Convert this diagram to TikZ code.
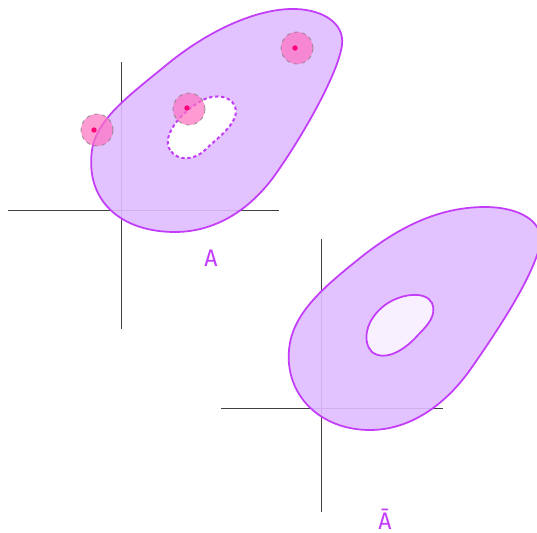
\documentclass[tikz,border=0pt]{standalone}
\usepackage{fontspec}
\newfontfamily\lblfont{DejaVu Sans Mono}
\definecolor{setfill}{HTML}{DFBBFF}
\definecolor{setline}{HTML}{C23CFA}
\definecolor{holefill}{HTML}{F8F0FF}
\definecolor{diskfill}{HTML}{FF70C0}
\definecolor{dotcol}{HTML}{FF0077}
\tikzset{
  axis/.style={draw=black!75, line width=0.6pt},
  setregion/.style={fill=setfill, fill opacity=0.9, draw=setline, line width=1.3pt, draw opacity=1},
  holeA/.style={fill=white, draw=setline, line width=1.5pt, dash pattern=on 2.5pt off 2pt},
  holeB/.style={fill=holefill, draw=setline, line width=1.3pt},
  disk/.style={circle, minimum size=24pt, inner sep=0pt, fill=diskfill, fill opacity=0.7, draw=black!50, draw opacity=0.8, dashed, line width=0.6pt},
  centre/.style={circle, minimum size=4pt, inner sep=0pt, fill=dotcol},
  lbl/.style={text=setline, inner sep=0pt, font=\lblfont\fontsize{17pt}{17pt}\selectfont}
}
\begin{document}
\begin{tikzpicture}[x=0.75pt,y=-0.75pt]
\useasboundingbox (0,0) rectangle (537,533);
% axes A
\coordinate (ax1) at (8,210); \coordinate (ax2) at (279,210);
\coordinate (ay1) at (121,62); \coordinate (ay2) at (121,329);
\draw[axis] (ax1) -- (ax2);
\draw[axis] (ay1) -- (ay2);
% axes Abar
\coordinate (bx1) at (221,408); \coordinate (bx2) at (443,408);
\coordinate (by1) at (321,239); \coordinate (by2) at (321,512);
\draw[axis] (bx1) -- (bx2);
\draw[axis] (by1) -- (by2);
% set A
\draw[setregion] (175,232) .. controls (120,232) and (85,200) .. (92,150)
  .. controls (97,118) and (130,95) .. (170,62)
  .. controls (210,30) and (255,10) .. (290,9)
  .. controls (320,8) and (345,22) .. (342,45)
  .. controls (338,75) and (300,140) .. (275,175)
  .. controls (250,210) and (215,232) .. (175,232) -- cycle;
\draw[holeA] (170,150) .. controls (160,135) and (185,108) .. (205,99)
  .. controls (222,92) and (240,100) .. (235,117)
  .. controls (230,130) and (215,140) .. (205,150)
  .. controls (195,160) and (178,162) .. (170,150) -- cycle;
% set Abar
\draw[setregion] (370,430) .. controls (320,430) and (285,395) .. (289,350)
  .. controls (292,315) and (320,290) .. (360,258)
  .. controls (400,226) and (440,207) .. (485,207)
  .. controls (520,207) and (545,222) .. (540,245)
  .. controls (533,275) and (505,320) .. (470,370)
  .. controls (445,405) and (410,430) .. (370,430) -- cycle;
\draw[holeB] (372,352) .. controls (362,342) and (365,320) .. (385,305)
  .. controls (400,294) and (425,290) .. (432,303)
  .. controls (437,315) and (428,325) .. (418,335)
  .. controls (405,350) and (385,362) .. (372,352) -- cycle;
% disks
\node[disk] (d1) at (97,130) {};
\node[disk] (d2) at (189,109) {};
\node[disk] (d3) at (297,48) {};
\node[centre] (c1) at (94,130) {};
\node[centre] (c2) at (187,108) {};
\node[centre] (c3) at (295,48) {};
% labels
\node[lbl] (la) at (211,258) {A};
\node[lbl] (lb) at (385,519) {Ā};
\end{tikzpicture}
\end{document}
